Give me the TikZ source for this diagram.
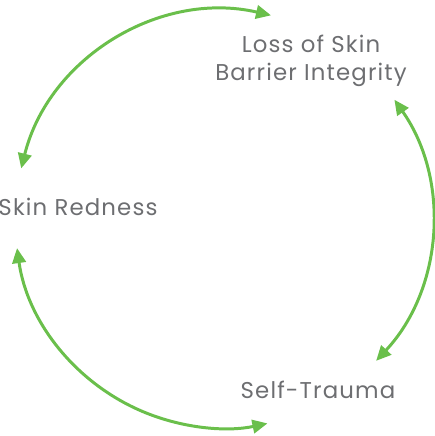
\documentclass[tikz,border=0pt]{standalone}
\usepackage{fontspec}
\setmainfont{Poppins}
\usepackage{xcolor}
\usepackage{tikz}
\usetikzlibrary{arrows.meta, positioning, calc}
\definecolor{cycgreen}{HTML}{6ABF4B}
\definecolor{cycgray}{HTML}{6D6E71}

\begin{document}
\begin{tikzpicture}[x=0.02cm, y=0.02cm]
  \tikzset{
    lbl/.style={font=\fontsize{13}{16}\selectfont\addfontfeature{LetterSpace=5},
      text=cycgray, align=center, inner sep=0pt},
    cyc/.style={draw=cycgreen, line width=1.7pt,
      {Triangle[length=0.3cm, width=0.27cm]}-{Triangle[length=0.3cm, width=0.27cm]}},
  }
  \useasboundingbox (0,0) rectangle (435,-436);
  \coordinate (c) at (224,-219);

  \node[lbl] (loss) at (311,-61) {Loss of Skin\\Barrier Integrity};
  \node[lbl] (red) at (78,-207) {Skin Redness};
  \node[lbl] (self) at (318,-390) {Self-Trauma};

  \coordinate (a1) at ($(c)+(166:209)$);
  \coordinate (a2) at ($(c)+(35:208)$);
  \coordinate (a3) at ($(c)+(188:209)$);

  \draw[cyc] (a1) arc[start angle=166, end angle=77, radius=209];
  \draw[cyc] (a2) arc[start angle=35, end angle=-43, radius=208];
  \draw[cyc] (a3) arc[start angle=188, end angle=282, radius=209];
\end{tikzpicture}
\end{document}
